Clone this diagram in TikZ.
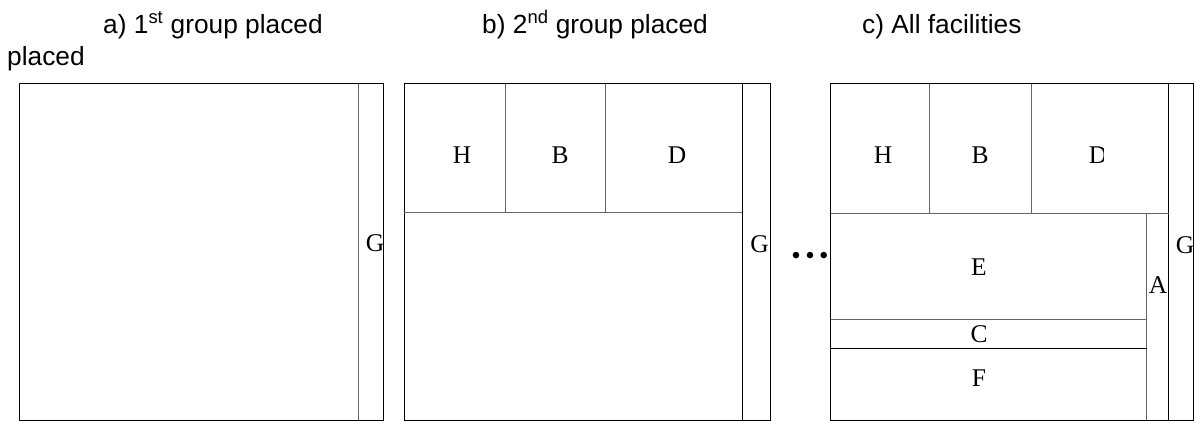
\documentclass[tikz,border=0pt]{standalone}
\usepackage{fontspec}
\setmainfont{Liberation Serif}
\newfontfamily\titlefont{Liberation Sans}
\begin{document}
\begin{tikzpicture}[x=1pt,y=-1pt,
  frame/.style={draw=black,line width=1pt},
  sep/.style={draw=black!60,line width=1pt},
  lbl/.style={font=\fontsize{25.5}{25.5}\selectfont,inner sep=0pt},
  ttl/.style={font=\titlefont\fontsize{26.3}{26.3}\selectfont,anchor=base west,inner sep=0pt}]
\useasboundingbox (0,0) rectangle (1196,421);
% titles
\node[ttl] (ta) at (103,33) {a) 1\textsuperscript{st} group placed};
\node[ttl] (ta2) at (7,65) {placed};
\node[ttl] (tb) at (482,33) {b) 2\textsuperscript{nd} group placed};
\node[ttl] (tc) at (862,33) {c) All facilities};
% panel a
\draw[frame] (19.5,83.5) rectangle (383.5,420);
\draw[sep] (358,83.5) -- (358,420);
\node[lbl] (ga) at (375,243) {G};
% panel b
\draw[frame] (404,83.5) rectangle (770,420);
\draw[frame] (742,83.5) -- (742,420);
\draw[sep] (404,212.5) -- (742,212.5);
\draw[sep] (505,83.5) -- (505,212.5);
\draw[sep] (605,83.5) -- (605,212.5);
\node[lbl] (hb) at (462,155) {H};
\node[lbl] (bb) at (560,155) {B};
\node[lbl] (db) at (677,155) {D};
\node[lbl] (gb) at (759.5,244) {G};
% dots
\node[font=\fontsize{27}{27}\selectfont,inner sep=0pt] (dots) at (810,258) {•\hspace{4.5pt}•\hspace{4.5pt}•};
% panel c
\draw[frame] (830.5,83.5) rectangle (1193,420);
\draw[frame] (1168.5,83.5) -- (1168.5,420);
\draw[sep] (830.5,213) -- (1168.5,213);
\draw[sep] (929,83.5) -- (929,213);
\draw[sep] (1031,83.5) -- (1031,213);
\draw[sep] (1146.5,213) -- (1146.5,420);
\draw[sep] (830.5,319) -- (1146.5,319);
\draw[frame] (830.5,348) -- (1146.5,348);
\node[lbl] (hc) at (883,155) {H};
\node[lbl] (bc) at (980,155) {B};
\begin{scope}
\clip (1080,120) rectangle (1103,190);
\node[lbl] (dc) at (1098,155) {D};
\end{scope}
\node[lbl] (ec) at (979,267) {E};
\node[lbl] (ac) at (1158,285) {A};
\node[lbl] (cc) at (979,334) {C};
\node[lbl] (fc) at (979,378) {F};
\node[lbl] (gc) at (1185,245) {G};
\end{tikzpicture}
\end{document}
